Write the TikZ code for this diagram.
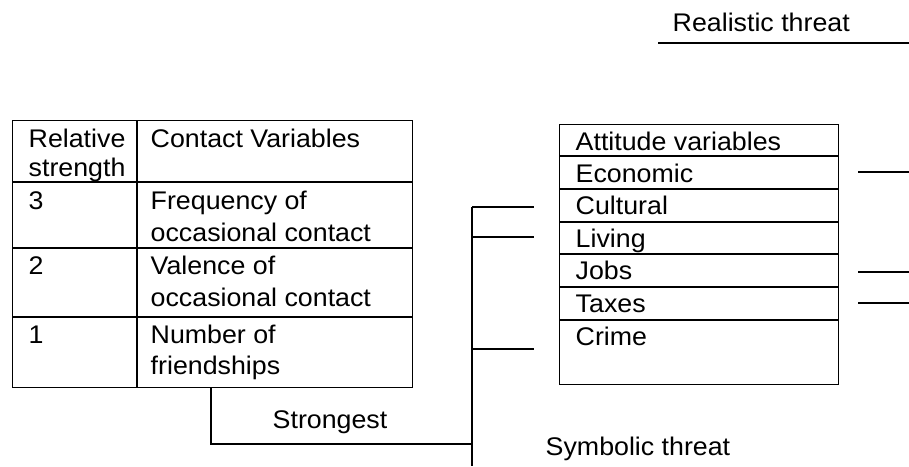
\documentclass[tikz,border=0pt]{standalone}
\usepackage{fontspec}
\setmainfont{Liberation Sans}[FakeStretch=1.05]
\begin{document}
\begin{tikzpicture}[x=1pt,y=-1pt,line width=1.4pt,
  txt/.style={anchor=base west,inner sep=0pt,font=\fontsize{25.5}{30}\selectfont},
  box/.style={draw,anchor=north west,inner sep=0pt}]
\useasboundingbox (0,0) rectangle (909,466);
% ---- contact table ----
\node[box,minimum width=400pt,minimum height=267pt] (ctab) at (12,120) {};
\draw (137,120) -- (137,387);
\draw (12,182) -- (412,182);
\draw (12,248) -- (412,248);
\draw (12,317) -- (412,317);
\node[txt] (rel1) at (28,147) {Relative};
\node[txt] (rel2) at (28,176) {strength};
\node[txt] (cv) at (150,147) {Contact Variables};
\node[txt] (n3) at (28,209) {3};
\node[txt] (f1) at (150,209) {Frequency of};
\node[txt] (f2) at (150,241) {occasional contact};
\node[txt] (n2) at (28,274) {2};
\node[txt] (v1) at (150,274) {Valence of};
\node[txt] (v2) at (150,306) {occasional contact};
\node[txt] (n1) at (28,343) {1};
\node[txt] (nf1) at (150,343) {Number of};
\node[txt] (nf2) at (150,374) {friendships};
% ---- attitude table ----
\node[box,minimum width=279pt,minimum height=260pt] (atab) at (559,124) {};
\foreach \yy in {156,189,222,254,287,320}{\draw (559,\yy) -- (838,\yy);}
\node[txt] (att) at (575,150) {Attitude variables};
\node[txt] (eco) at (575,182) {Economic};
\node[txt] (cul) at (575,214.5) {Cultural};
\node[txt] (liv) at (575,247) {Living};
\node[txt] (job) at (575,279.5) {Jobs};
\node[txt] (tax) at (575,312) {Taxes};
\node[txt] (cri) at (575,345) {Crime};
% ---- labels ----
\node[txt] (real) at (672,31) {Realistic threat};
\node[txt] (symb) at (545,455) {Symbolic threat};
\node[txt] (strong) at (272,428) {Strongest};
% ---- connectors ----
\coordinate (rl) at (658,43);
\coordinate (rr) at (909,43);
\draw (rl) -- (rr);
\coordinate (btop) at (472,207);
\coordinate (bbot) at (472,466);
\coordinate (join) at (472,444);
\coordinate (cstart) at (211,387);
\draw (btop) -- (bbot);
\draw (cstart) |- (join);
\coordinate (sc) at (534,207);
\coordinate (sl) at (534,237);
\coordinate (scr) at (472,349);
\coordinate (scr2) at (534,349);
\coordinate (lv) at (472,237);
\draw (btop) -- (sc);
\draw (lv) -- (sl);
\draw (scr) -- (scr2);
\coordinate (e1) at (858,172);
\coordinate (e2) at (909,172);
\coordinate (j1) at (858,272);
\coordinate (j2) at (909,272);
\coordinate (t1) at (858,303);
\coordinate (t2) at (909,303);
\draw (e1) -- (e2);
\draw (j1) -- (j2);
\draw (t1) -- (t2);
\end{tikzpicture}
\end{document}
